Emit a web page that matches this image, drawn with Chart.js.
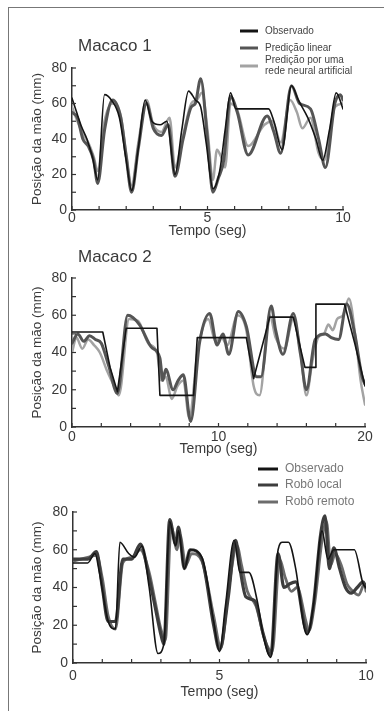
<!DOCTYPE html>
<html>
<head>
<meta charset="utf-8">
<script src="https://cdn.jsdelivr.net/npm/chart.js@4.4.0/dist/chart.umd.min.js"></script>
<style>
  html, body { margin: 0; padding: 0; background: #fff; }
  #wrap { position: relative; width: 384px; height: 711px; overflow: hidden; background: #fff; }
  #frame { position: absolute; left: 8px; top: 7px; width: 400px; height: 720px; border-left: 1.5px solid #777; border-top: 1.5px solid #777; }
  canvas { position: absolute; left: 0; }
</style>
</head>
<body>
<div id="wrap">
  <div id="frame"></div>
  <canvas id="c1" width="384" height="240" style="top:0px"></canvas>
  <canvas id="c2" width="384" height="218" style="top:240px"></canvas>
  <canvas id="c3" width="384" height="243" style="top:458px"></canvas>
</div>
<script>
// ---------- Panel 1: Macaco 1 (tempo 0-10 s) ----------
const obs1T = [0, 0.15, 0.35, 0.55, 0.75, 0.95, 1.2, 1.45, 1.75, 2.0, 2.2, 2.45, 2.7, 2.95, 3.25, 3.5, 3.8, 4.05, 4.3, 4.55, 4.75, 4.95, 5.2, 5.45, 5.65, 5.85, 6.05, 7.25, 7.45, 7.75, 8.1, 8.35, 8.7, 9.0, 9.25, 9.5, 9.75, 10];
const obs1Y = [63, 56, 47, 40, 30, 17, 65, 62, 52, 28, 11, 35, 62, 50, 48, 50, 20, 45, 67, 62, 58, 38, 12, 22, 45, 66, 57, 57, 50, 34, 70, 62, 52, 40, 28, 45, 66, 57];
const lin1T = [0, 0.2, 0.4, 0.6, 0.8, 0.95, 1.2, 1.5, 1.8, 2.0, 2.2, 2.45, 2.75, 3.0, 3.3, 3.55, 3.8, 4.1, 4.4, 4.55, 4.75, 5.0, 5.2, 5.4, 5.6, 5.85, 6.1, 6.5, 7.2, 7.45, 7.7, 8.1, 8.4, 8.8, 9.1, 9.35, 9.7, 9.9, 10];
const lin1Y = [55, 52, 40, 36, 28, 15, 45, 62, 52, 30, 10, 35, 60, 46, 42, 48, 19, 40, 58, 60, 74, 40, 10, 18, 28, 64, 55, 31, 53, 44, 32, 70, 60, 57, 40, 24, 60, 65, 62];
const ann1T = [0, 0.2, 0.4, 0.6, 0.8, 0.95, 1.2, 1.5, 1.8, 2.0, 2.2, 2.45, 2.75, 3.0, 3.3, 3.6, 3.8, 4.1, 4.4, 4.6, 4.8, 5.0, 5.2, 5.35, 5.5, 5.65, 5.85, 6.1, 6.5, 7.1, 7.4, 7.7, 8.05, 8.3, 8.5, 8.8, 9.1, 9.3, 9.7, 10];
const ann1Y = [58, 50, 43, 38, 30, 22, 50, 60, 53, 32, 14, 38, 62, 48, 44, 52, 24, 42, 60, 62, 66, 45, 17, 34, 30, 24, 60, 56, 36, 48, 50, 38, 62, 55, 46, 52, 32, 28, 58, 60];
const legend1 = ['Observado', 'Predição linear', ['Predição por uma', 'rede neural artificial']];

// ---------- Panel 2: Macaco 2 (tempo 0-20 s) ----------
const obs2T = [0, 2.1, 2.6, 3.1, 3.7, 5.8, 6.0, 8.3, 8.55, 11.9, 12.4, 13.5, 15.1, 15.9, 16.6, 16.65, 18.6, 19.3, 20];
const obs2Y = [51, 51, 32, 19, 53, 53, 17, 17, 48, 48, 26, 59, 59, 32, 32, 66, 66, 45, 22];
const lin2T = [0, 0.4, 0.8, 1.2, 1.6, 2.0, 2.5, 3.1, 3.8, 4.6, 5.4, 6.0, 6.2, 6.4, 6.9, 7.25, 7.6, 8.1, 8.7, 9.4, 9.9, 10.3, 10.7, 11.35, 11.9, 12.6, 12.9, 13.6, 13.9, 14.4, 15.1, 15.6, 16.0, 16.6, 17.3, 17.7, 18.2, 18.75, 19.3, 19.8, 20];
const lin2Y = [45, 50, 46, 49, 47, 45, 33, 18, 60, 55, 43, 37, 25, 31, 20, 25, 28, 3, 45, 61, 44, 50, 39, 62, 54, 27, 27, 65, 52, 39, 61, 39, 20, 47, 50, 48, 47, 66, 50, 27, 23];
const ann2T = [0, 0.3, 0.7, 1.1, 1.5, 1.9, 2.4, 3.0, 3.2, 3.9, 4.5, 5.2, 5.8, 6.1, 6.4, 6.8, 7.2, 7.6, 8.0, 8.6, 9.3, 9.8, 10.2, 10.6, 11.3, 11.9, 12.4, 12.8, 13.5, 13.9, 14.5, 15.1, 15.6, 16.0, 16.4, 16.8, 17.2, 17.5, 17.8, 18.1, 18.5, 18.9, 19.4, 19.7, 20];
const ann2Y = [40, 48, 42, 47, 44, 40, 30, 20, 17, 58, 57, 45, 40, 25, 27, 15, 22, 25, 5, 42, 58, 46, 48, 44, 60, 52, 22, 17, 60, 48, 42, 58, 40, 17, 35, 48, 50, 55, 52, 58, 60, 69, 45, 25, 12];

// ---------- Panel 3: robôs (tempo 0-10 s) ----------
const obs3T = [0, 0.5, 0.75, 0.9, 1.2, 1.45, 1.6, 1.9, 2.1, 2.35, 2.6, 2.9, 3.1, 3.3, 3.5, 3.6, 3.8, 4.0, 4.4, 4.8, 5.0, 5.2, 5.5, 5.7, 6.0, 6.3, 6.5, 6.75, 7.0, 7.15, 7.35, 7.6, 7.9, 8.0, 8.2, 8.5, 8.7, 8.9, 9.6, 9.9, 10];
const obs3Y = [53, 53, 58, 48, 22, 18, 64, 58, 56, 62, 40, 5, 10, 75, 62, 70, 50, 60, 56, 22, 6, 30, 65, 48, 48, 32, 14, 3, 60, 64, 64, 50, 18, 15, 30, 70, 55, 60, 60, 42, 40];
const loc3T = [0, 0.5, 0.8, 1.0, 1.2, 1.45, 1.7, 2.0, 2.3, 2.6, 2.8, 3.0, 3.1, 3.3, 3.5, 3.6, 3.8, 4.0, 4.4, 4.8, 5.0, 5.3, 5.55, 5.7, 5.9, 6.2, 6.5, 6.75, 7.0, 7.2, 7.4, 7.6, 7.9, 8.0, 8.2, 8.45, 8.6, 8.75, 8.9, 9.1, 9.3, 9.5, 9.7, 9.9, 10];
const loc3Y = [55, 55, 59, 40, 22, 22, 55, 55, 63, 45, 30, 15, 10, 76, 63, 72, 50, 60, 55, 20, 7, 35, 65, 50, 35, 33, 15, 4, 58, 40, 42, 43, 20, 16, 30, 68, 78, 50, 61, 50, 40, 37, 40, 43, 40];
const rem3T = [0, 0.5, 0.8, 1.0, 1.2, 1.45, 1.7, 2.0, 2.3, 2.6, 2.8, 3.0, 3.15, 3.35, 3.55, 3.65, 3.85, 4.05, 4.4, 4.8, 5.05, 5.3, 5.6, 5.75, 5.95, 6.25, 6.55, 6.8, 7.05, 7.25, 7.45, 7.65, 7.95, 8.05, 8.25, 8.5, 8.65, 8.8, 8.95, 9.15, 9.35, 9.55, 9.75, 9.95, 10];
const rem3Y = [54, 56, 57, 45, 25, 18, 53, 56, 60, 48, 33, 18, 12, 72, 60, 68, 52, 58, 54, 25, 8, 38, 62, 52, 38, 30, 12, 6, 55, 45, 38, 40, 22, 17, 32, 65, 75, 52, 58, 52, 42, 38, 36, 42, 38];
const legend3 = ['Observado', 'Robô local', 'Robô remoto'];

// Axis tick labels
const yTickLabels = [0, 20, 40, 60, 80];
const xTickLabels10 = [0, 5, 10];
const xTickLabels20 = [0, 10, 20];

const FONT = '"Liberation Sans", Arial, Helvetica, sans-serif';
const TXT = '#3a3a3a';

function pts(T, Y) { return T.map((t, i) => ({ x: t, y: Y[i] })); }

// Inward tick marks, titles and stacked legend drawn from chart data
const decor = {
  id: 'decor',
  afterDraw(chart, args, o) {
    const ctx = chart.ctx;
    const xs = chart.scales.x, ys = chart.scales.y;
    const a = chart.chartArea;
    ctx.save();
    ctx.strokeStyle = '#333';
    ctx.lineWidth = 1.2;
    xs.ticks.forEach(t => {
      const px = xs.getPixelForValue(t.value);
      ctx.beginPath(); ctx.moveTo(px, a.bottom); ctx.lineTo(px, a.bottom - 4); ctx.stroke();
    });
    ys.ticks.forEach(t => {
      const py = ys.getPixelForValue(t.value);
      ctx.beginPath(); ctx.moveTo(a.left, py); ctx.lineTo(a.left + 4, py); ctx.stroke();
    });
    if (o.title) {
      ctx.fillStyle = TXT;
      ctx.font = '17px ' + FONT;
      ctx.textBaseline = 'middle';
      ctx.textAlign = 'left';
      ctx.fillText(o.title, o.titleX, o.titleY);
    }
    if (o.labels) {
      chart.data.datasets.forEach((ds, i) => {
        const y = o.legY[i];
        ctx.strokeStyle = ds.borderColor;
        ctx.lineWidth = 3;
        ctx.beginPath(); ctx.moveTo(o.legX, y); ctx.lineTo(o.legX + o.legLen, y); ctx.stroke();
        ctx.fillStyle = o.legColor;
        ctx.font = o.legFont + 'px ' + FONT;
        ctx.textAlign = 'left';
        ctx.textBaseline = 'middle';
        const lab = o.labels[i];
        if (Array.isArray(lab)) {
          ctx.fillText(lab[0], o.textX, y - 6);
          ctx.fillText(lab[1], o.textX, y + 5);
        } else {
          ctx.fillText(lab, o.textX, y);
        }
      });
    }
    ctx.restore();
  }
};

function makeChart(id, cfg) {
  const H = cfg.H;
  return new Chart(document.getElementById(id), {
    type: 'line',
    data: { datasets: cfg.datasets },
    options: {
      responsive: false,
      animation: false,
      devicePixelRatio: 1,
      layout: { padding: { left: 0, top: cfg.top, right: cfg.right, bottom: 0 } },
      elements: { point: { radius: 0 }, line: { cubicInterpolationMode: 'monotone', borderJoinStyle: 'round', borderCapStyle: 'round' } },
      plugins: {
        legend: { display: false },
        tooltip: { enabled: false },
        decor: cfg.decor
      },
      scales: {
        x: {
          type: 'linear', min: 0, max: cfg.xMax,
          afterFit: s => { s.height = H - cfg.bottom; },
          grid: { display: false, drawTicks: false },
          border: { display: true, color: '#333', width: 1.5 },
          ticks: {
            stepSize: cfg.xStep, autoSkip: false, maxRotation: 0, padding: cfg.xPad,
            color: TXT, font: { family: FONT, size: 14 },
            callback: v => cfg.xLabels.includes(v) ? String(v) : ''
          },
          title: { display: true, text: 'Tempo (seg)', color: TXT, font: { family: FONT, size: 14 }, padding: { top: 0, bottom: 0 } }
        },
        y: {
          type: 'linear', min: 0, max: 80,
          afterFit: s => { s.width = cfg.left; },
          grid: { display: false, drawTicks: false },
          border: { display: true, color: '#333', width: 1.5 },
          ticks: {
            stepSize: 10, autoSkip: false, padding: 5,
            color: TXT, font: { family: FONT, size: 14 },
            callback: v => yTickLabels.includes(v) ? String(v) : ''
          },
          title: { display: true, text: 'Posição da mão (mm)', color: TXT, font: { family: FONT, size: 13.5 }, padding: { top: 29, bottom: 0 } }
        }
      }
    },
    plugins: [decor]
  });
}

makeChart('c1', {
  H: 240, top: 68, bottom: 210, left: 72, right: 41, xMax: 10, xStep: 1, xPad: 0, xLabels: xTickLabels10,
  datasets: [
    { label: 'Observado', data: pts(obs1T, obs1Y), borderColor: '#141414', borderWidth: 1.6 },
    { label: 'Predição linear', data: pts(lin1T, lin1Y), borderColor: '#555555', borderWidth: 3 },
    { label: 'Predição por uma rede neural artificial', data: pts(ann1T, ann1Y), borderColor: '#a3a3a3', borderWidth: 2.5 }
  ],
  decor: { title: 'Macaco 1', titleX: 78, titleY: 46, legX: 240, legLen: 18, textX: 265, legY: [31, 48, 66], legFont: 10, legColor: '#444', labels: legend1 }
});

makeChart('c2', {
  H: 218, top: 38, bottom: 187, left: 72, right: 19, xMax: 20, xStep: 2, xPad: 2, xLabels: xTickLabels20,
  datasets: [
    { label: 'Observado', data: pts(obs2T, obs2Y), borderColor: '#141414', borderWidth: 1.6, cubicInterpolationMode: 'default', tension: 0 },
    { label: 'Predição linear', data: pts(lin2T, lin2Y), borderColor: '#555555', borderWidth: 3 },
    { label: 'Predição por uma rede neural artificial', data: pts(ann2T, ann2Y), borderColor: '#a3a3a3', borderWidth: 2.5 }
  ],
  decor: { title: 'Macaco 2', titleX: 78, titleY: 17, labels: null }
});

makeChart('c3', {
  H: 243, top: 54, bottom: 205, left: 73, right: 18, xMax: 10, xStep: 1, xPad: 5, xLabels: xTickLabels10,
  datasets: [
    { label: 'Observado', data: pts(obs3T, obs3Y), borderColor: '#141414', borderWidth: 1.6 },
    { label: 'Robô local', data: pts(loc3T, loc3Y), borderColor: '#3d3d3d', borderWidth: 3.2 },
    { label: 'Robô remoto', data: pts(rem3T, rem3Y), borderColor: '#6c6c6c', borderWidth: 2.8 }
  ],
  decor: { title: '', legX: 258, legLen: 20, textX: 285, legY: [11, 27, 44], legFont: 12, legColor: '#777', labels: legend3 }
});
</script>
</body>
</html>
